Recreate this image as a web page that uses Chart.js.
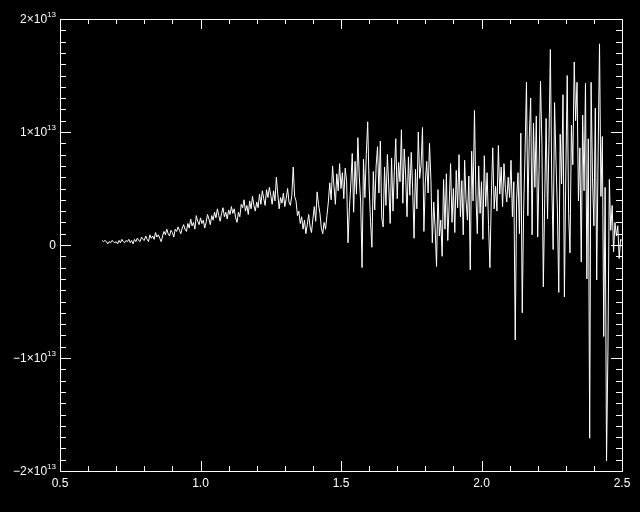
<!DOCTYPE html>
<html>
<head>
<meta charset="utf-8">
<script src="https://cdn.jsdelivr.net/npm/chart.js@4/dist/chart.umd.min.js"></script>
<style>
  html, body { margin: 0; padding: 0; background: #000; }
  canvas { display: block; }
</style>
</head>
<body>
<canvas id="spectrum" width="640" height="512"></canvas>
<script>
// sampling grid of the spectrum (x axis)
const xStart = 0.65
const xStep = 0.005

// y values, in units of 1e12
const yValues = [
  0.4, 0.3, 0.4, 0.3, 0.1, 0.3, 0.2, 0.4, 0.3, 0.2,
  0.3, 0.1, 0.4, 0.2, 0.5, 0.3, 0.2, 0.4, 0.3, 0.5,
  0.2, 0.4, 0.1, 0.5, 0.3, 0.6, 0.4, 0.3, 0.7, 0.5,
  0.4, 0.8, 0.5, 0.3, 0.9, 0.6, 0.8, 0.5, 1.1, 0.7,
  0.9, 0.6, 0.3, 0.8, 1.2, 0.9, 1.4, 1.0, 0.8, 1.3,
  1.1, 0.7, 1.4, 1.2, 1.6, 1.3, 1.0, 1.5, 1.8, 1.4,
  1.2, 1.9, 1.5, 2.3, 1.7, 2.0, 1.4, 2.6, 2.1, 1.8,
  2.4, 1.9, 2.2, 1.5, 2.0, 2.7, 2.3, 1.8, 2.6, 2.2,
  2.9, 2.4, 3.2, 2.6, 2.1, 2.8, 3.3, 2.5, 2.9, 2.3,
  3.1, 2.7, 3.4, 2.8, 3.2, 2.4, 2.0, 2.9, 2.5, 3.6,
  3.3, 4.0, 3.0, 3.5, 2.7, 3.9, 3.2, 4.3, 3.5, 3.0,
  3.8, 3.3, 4.5, 3.6, 4.8, 4.1, 3.5, 4.9, 4.2, 5.1,
  4.4, 3.6, 4.8, 3.9, 6.0, 4.5, 3.2, 4.2, 3.7, 4.6,
  3.4, 4.1, 5.0, 3.8, 3.5, 4.4, 6.9, 4.3, 3.9, 2.6,
  3.0, 1.9, 2.5, 1.4, 2.2, 1.0, 1.8, 2.7, 1.6, 1.1,
  2.3, 3.4, 2.1, 4.7, 3.6, 2.8, 1.5, 1.0, 2.0, 1.4,
  2.6, 3.8, 5.5, 4.0, 7.0, 5.2, 3.6, 6.3, 4.8, 7.2,
  5.0, 6.4, 4.1, 6.8, 5.6, 0.2, 3.3, 5.4, 8.1, 2.9,
  7.4, 4.5, 9.5, 6.1, 3.8, -2.0, 7.6, 4.2, 8.0, 10.9,
  5.3, 2.1, -0.2, 6.5, 3.1, 7.0, 8.7, 4.6, 9.2, 2.4,
  1.6, 6.9, 3.5, 8.0, 5.2, 1.9, 7.7, 3.0, 6.6, 9.4,
  4.1, 7.3, 5.6, 10.2, 3.7, 8.5, 6.2, 2.5, 7.8, 4.4,
  8.2, 5.0, 0.6, 6.7, 3.2, 10.0, 5.9, 7.1, 10.4, 1.2,
  5.5, 7.4, 4.6, 9.0, 5.8, 0.2, 3.8, 1.5, -1.9, 4.9,
  0.8, 2.2, -1.0, 5.8, 1.4, 6.3, 0.4, 3.6, 7.2, 2.0,
  5.0, 1.1, 6.6, 3.3, 8.0, 2.5, 5.7, 0.9, 7.5, 4.0,
  2.2, 6.1, -2.2, 8.3, 3.9, 11.9, 4.5, 1.0, 7.0, 2.8,
  5.6, 0.5, 7.9, 3.4, 6.4, 1.8, -2.0, 4.3, 8.6, 3.2,
  5.2, 3.0, 8.8, 4.5, 6.9, 3.4, 7.2, 5.0, 3.8, 6.0,
  4.2, 7.5, 2.5, 5.6, -8.4, 4.1, 6.4, 1.0, 9.9, -6.0,
  3.1, 8.2, 14.4, 2.6, 9.5, 13.0, 0.9, 10.8, 5.1, 11.4,
  0.7, 6.8, 14.5, 8.9, -3.7, 4.1, 11.2, 2.3, 9.0, 17.3,
  5.7, -0.4, 12.6, 7.5, 3.2, -4.2, 9.8, 5.4, 13.3, -4.6,
  6.2, 15.0, 2.8, -0.7, 10.6, 7.1, 16.2, 11.0, 14.4, 3.9,
  8.6, -1.5, 11.5, 4.8, 14.3, -3.0, 9.4, -17.1, 14.4, 6.0,
  1.7, 12.1, -3.1, 8.0, 17.8, 4.3, 9.6, -8.1, 5.1, -19.1,
  -9.3, 5.8, 1.3, 3.5, -0.6, 2.0, 0.8, 1.7, -1.2, 0.5,
  0.4
]

// axis ticks
const xTickValues = [0.5, 1.0, 1.5, 2.0, 2.5]
const xTickLabels = ['0.5', '1.0', '1.5', '2.0', '2.5']
const yTickValues = [-20, -10, 0, 10, 20]
const yTickLabels = ['\u22122\u00d710', '\u22121\u00d710', '0', '1\u00d710', '2\u00d710']
const yTickExps = ['13', '13', '', '13', '13']

const points = yValues.map((v, i) => ({ x: xStart + i * xStep, y: v }))

const idlAxes = {
  id: 'idlAxes',
  beforeDraw(chart) {
    const ctx = chart.ctx
    ctx.save()
    ctx.fillStyle = '#000'
    ctx.fillRect(0, 0, chart.width, chart.height)
    ctx.restore()
  },
  afterDraw(chart) {
    const ctx = chart.ctx
    const a = chart.chartArea
    const xs = chart.scales.x
    const ys = chart.scales.y
    ctx.save()
    ctx.strokeStyle = '#fff'
    ctx.lineWidth = 1
    ctx.strokeRect(Math.round(a.left) + 0.5, Math.round(a.top) + 0.5,
      Math.round(a.right - a.left), Math.round(a.bottom - a.top))

    ctx.beginPath()
    // x ticks, bottom and top, pointing inward
    for (let i = 0; i <= 20; i++) {
      const v = 0.5 + i * 0.1
      const px = Math.round(xs.getPixelForValue(v)) + 0.5
      const len = i % 5 === 0 ? 10 : 5
      ctx.moveTo(px, a.bottom); ctx.lineTo(px, a.bottom - len)
      ctx.moveTo(px, a.top); ctx.lineTo(px, a.top + len)
    }
    // y ticks, left and right
    for (let i = 0; i <= 40; i++) {
      const v = -20 + i
      const py = Math.round(ys.getPixelForValue(v)) + 0.5
      const len = i % 10 === 0 ? 11 : 6
      ctx.moveTo(a.left, py); ctx.lineTo(a.left + len, py)
      ctx.moveTo(a.right, py); ctx.lineTo(a.right - len, py)
    }
    ctx.stroke()

    ctx.fillStyle = '#fff'
    ctx.font = '12px "Liberation Sans", Arial, sans-serif'
    ctx.textAlign = 'center'
    ctx.textBaseline = 'top'
    xTickValues.forEach((v, i) => {
      ctx.fillText(xTickLabels[i], xs.getPixelForValue(v), a.bottom + 7)
    })

    ctx.textAlign = 'left'
    yTickValues.forEach((v, i) => {
      const py = ys.getPixelForValue(v)
      ctx.font = '12px "Liberation Sans", Arial, sans-serif'
      const w1 = ctx.measureText(yTickLabels[i]).width
      ctx.font = '8px "Liberation Sans", Arial, sans-serif'
      const w2 = yTickExps[i] ? ctx.measureText(yTickExps[i]).width : 0
      const x0 = a.left - 4 - w1 - w2
      ctx.font = '12px "Liberation Sans", Arial, sans-serif'
      ctx.textBaseline = 'middle'
      ctx.fillText(yTickLabels[i], x0, py + 1)
      if (yTickExps[i]) {
        ctx.font = '8px "Liberation Sans", Arial, sans-serif'
        ctx.fillText(yTickExps[i], x0 + w1, py - 4)
      }
    })
    ctx.restore()
  }
}

new Chart(document.getElementById('spectrum'), {
  type: 'line',
  data: {
    datasets: [{
      data: points,
      borderColor: '#ffffff',
      borderWidth: 1,
      pointRadius: 0,
      tension: 0,
      fill: false
    }]
  },
  options: {
    responsive: false,
    animation: false,
    layout: { padding: { left: 60, right: 18, top: 19, bottom: 41 } },
    plugins: { legend: { display: false }, tooltip: { enabled: false } },
    scales: {
      x: { type: 'linear', min: 0.5, max: 2.5, display: false },
      y: { type: 'linear', min: -20, max: 20, display: false }
    }
  },
  plugins: [idlAxes]
})
</script>
</body>
</html>
